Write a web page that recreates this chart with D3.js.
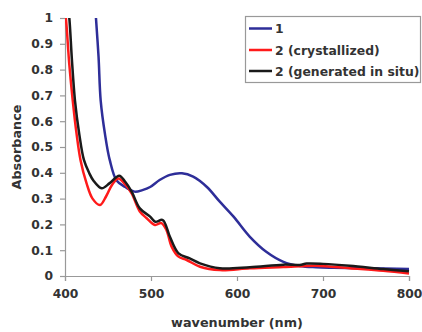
<!DOCTYPE html>
<html>
<head>
<meta charset="utf-8">
<script src="https://cdn.jsdelivr.net/npm/d3@7"></script>
<style>
  body { margin: 0; background: #fff; }
  text { font-family: "DejaVu Sans", Arial, sans-serif; font-weight: bold; fill: #333; }
</style>
</head>
<body>
<div id="chart"></div>
<script>
'use strict';

// series names (legend order)
var seriesNames = ['1', '2 (crystallized)', '2 (generated in situ)'];

// 1 (blue)
var blueNm  = [436, 439, 441.5, 446.5, 452, 460, 470, 481, 490, 499, 510, 522, 536, 549, 565, 580, 596, 615, 634, 654, 673, 692, 712, 751, 800];
var blueAbs = [1.0, 0.85, 0.68, 0.55, 0.45, 0.37, 0.345, 0.327, 0.333, 0.345, 0.372, 0.392, 0.398, 0.385, 0.345, 0.288, 0.23, 0.152, 0.094, 0.055, 0.039, 0.034, 0.032, 0.03, 0.027];

// 2 (crystallized), red
var redNm  = [400, 401, 405, 409, 413.5, 418, 425, 432, 440.7, 448, 455, 462, 470, 477.5, 487, 495, 504.6, 512, 518, 524, 532, 541.5, 557, 580, 615, 654, 692, 731, 770, 800];
var redAbs = [1.02, 1.0, 0.82, 0.68, 0.55, 0.45, 0.36, 0.30, 0.275, 0.31, 0.355, 0.378, 0.355, 0.32, 0.25, 0.224, 0.198, 0.205, 0.178, 0.114, 0.075, 0.062, 0.036, 0.023, 0.03, 0.035, 0.04, 0.03, 0.02, 0.01];

// 2 (generated in situ), black
var blackNm  = [404, 405, 408, 411.6, 416.6, 422, 428, 433, 442.6, 452, 463, 470, 477.5, 487, 499, 505, 513.6, 522, 532, 545, 557, 580, 615, 654, 673, 681, 700, 731, 770, 800];
var blackAbs = [1.02, 1.0, 0.84, 0.68, 0.55, 0.45, 0.40, 0.37, 0.34, 0.36, 0.389, 0.365, 0.327, 0.262, 0.23, 0.21, 0.217, 0.152, 0.088, 0.068, 0.049, 0.03, 0.034, 0.044, 0.043, 0.048, 0.047, 0.04, 0.027, 0.018];

var xTicks = [400, 500, 600, 700, 800];
var yTicks = [0, 0.1, 0.2, 0.3, 0.4, 0.5, 0.6, 0.7, 0.8, 0.9, 1];

var colors = ['#2e2e99', '#ff1a1a', '#1a1a1a'];

var w = 422, h = 332;
var plotLeft = 65, plotRight = 409, plotTop = 18, plotBottom = 276;

var svg = d3.select('#chart')
  .append('svg')
  .attr('width', w)
  .attr('height', h);

var x = d3.scaleLinear().domain([400, 800]).range([plotLeft, plotRight]);
var y = d3.scaleLinear().domain([0, 1]).range([plotBottom, plotTop]);

svg.append('clipPath')
  .attr('id', 'plotclip')
  .append('rect')
  .attr('x', plotLeft)
  .attr('y', plotTop)
  .attr('width', plotRight - plotLeft + 2)
  .attr('height', plotBottom - plotTop + 2);

// axes
var xAxis = svg.append('g')
  .attr('transform', 'translate(0,' + plotBottom + ')')
  .call(d3.axisBottom(x).tickValues(xTicks).tickSize(5).tickPadding(8).tickFormat(d3.format('d')));

var yAxis = svg.append('g')
  .attr('transform', 'translate(' + plotLeft + ',0)')
  .call(d3.axisLeft(y).tickValues(yTicks).tickSize(5).tickPadding(7).tickFormat(function (d) { return String(+d.toFixed(1)); }));

[xAxis, yAxis].forEach(function (g) {
  g.select('.domain').attr('stroke', '#999').attr('stroke-width', 1.2);
  g.selectAll('.tick line').attr('stroke', '#999').attr('stroke-width', 1.2);
  g.selectAll('.tick text')
    .attr('fill', '#333')
    .attr('font-size', 12.3)
    .attr('font-family', '"DejaVu Sans", Arial, sans-serif')
    .attr('font-weight', 'bold');
});

// lines
var line = d3.line()
  .x(function (d) { return x(d[0]); })
  .y(function (d) { return y(d[1]); })
  .curve(d3.curveCatmullRom.alpha(0.5));

var seriesData = [
  d3.zip(blueNm, blueAbs),
  d3.zip(redNm, redAbs),
  d3.zip(blackNm, blackAbs)
];

var plot = svg.append('g').attr('clip-path', 'url(#plotclip)');

// draw in order so black lies on top of red
[0, 1, 2].forEach(function (i) {
  plot.append('path')
    .datum(seriesData[i])
    .attr('fill', 'none')
    .attr('stroke', colors[i])
    .attr('stroke-width', 2.5)
    .attr('stroke-linejoin', 'round')
    .attr('d', line);
});

// axis titles
svg.append('text')
  .attr('x', (plotLeft + plotRight) / 2)
  .attr('y', 327)
  .attr('text-anchor', 'middle')
  .attr('font-size', 12.8)
  .text('wavenumber (nm)');

svg.append('text')
  .attr('transform', 'translate(21,147) rotate(-90)')
  .attr('text-anchor', 'middle')
  .attr('font-size', 12.8)
  .text('Absorbance');

// legend
var legend = svg.append('g');

legend.append('rect')
  .attr('x', 245.5)
  .attr('y', 16.5)
  .attr('width', 175)
  .attr('height', 66)
  .attr('fill', '#fff')
  .attr('stroke', '#999')
  .attr('stroke-width', 1.2);

var rowY = [28.5, 50, 71];

seriesNames.forEach(function (name, i) {
  legend.append('line')
    .attr('x1', 249)
    .attr('x2', 272)
    .attr('y1', rowY[i])
    .attr('y2', rowY[i])
    .attr('stroke', colors[i])
    .attr('stroke-width', 2.5);

  legend.append('text')
    .attr('x', 275)
    .attr('y', rowY[i] + 4.5)
    .attr('font-size', 12.4)
    .text(name);
});
</script>
</body>
</html>
